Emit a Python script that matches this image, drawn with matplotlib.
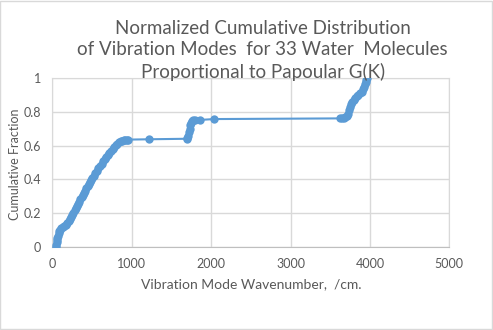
import matplotlib.pyplot as plt
from matplotlib.patches import Rectangle

# Wavenumbers (/cm) and cumulative fraction
low_x = [47, 50, 54, 58, 63, 70, 78, 88, 100, 115, 130, 150, 170, 190, 205, 220, 235, 250,
         265, 280, 295, 310, 325, 340, 355, 370, 385, 400, 415, 430, 445, 460, 475, 490,
         505, 520, 540, 560, 580, 600, 620, 640, 660, 680, 700, 720, 740, 760, 780, 800,
         820, 840, 860, 880, 900, 920, 940, 957]
low_y = [0.000, 0.012, 0.025, 0.038, 0.052, 0.066, 0.080, 0.092, 0.102, 0.110, 0.116, 0.122,
         0.130, 0.140, 0.151, 0.164, 0.177, 0.190, 0.203, 0.216, 0.229, 0.242, 0.255, 0.268,
         0.281, 0.294, 0.307, 0.320, 0.333, 0.346, 0.359, 0.372, 0.385, 0.398, 0.410, 0.422,
         0.437, 0.452, 0.466, 0.480, 0.494, 0.508, 0.521, 0.534, 0.546, 0.558, 0.570, 0.581,
         0.592, 0.602, 0.612, 0.619, 0.625, 0.629, 0.632, 0.634, 0.635, 0.636]

mid_x = [1222, 1693, 1700, 1710, 1720, 1730, 1740, 1750, 1760, 1775, 1797, 1860, 2041]
mid_y = [0.638, 0.641, 0.645, 0.660, 0.680, 0.700, 0.720, 0.735, 0.745, 0.750, 0.752, 0.753, 0.758]

high_x = [3623, 3645, 3670, 3690, 3708, 3720, 3735, 3749, 3765, 3780, 3795, 3815, 3835,
          3855, 3875, 3895, 3910, 3925, 3938, 3948, 3955, 3960]
high_y = [0.762, 0.762, 0.764, 0.768, 0.775, 0.790, 0.810, 0.830, 0.848, 0.862, 0.873, 0.885,
          0.895, 0.902, 0.910, 0.920, 0.935, 0.950, 0.965, 0.980, 0.990, 1.000]

wavenumber = low_x + mid_x + high_x
fraction = low_y + mid_y + high_y

x_ticks = [0, 1000, 2000, 3000, 4000, 5000]
y_ticks = [0, 0.2, 0.4, 0.6, 0.8, 1]
y_labels = ['0', '0.2', '0.4', '0.6', '0.8', '1']

plt.rcParams['font.family'] = ['Lato', 'DejaVu Sans']
grey = '#595959'

fig = plt.figure(figsize=(4.93, 3.30), dpi=100)
ax = fig.add_axes([0.1061, 0.2524, 0.8053, 0.5103])

ax.plot(wavenumber, fraction, color='#5B9BD5', linewidth=1.5, marker='o',
        markersize=6, markeredgewidth=0, zorder=3)

ax.set_xlim(0, 5000)
ax.set_ylim(0, 1)
ax.set_xticks(x_ticks)
ax.set_yticks(y_ticks)
ax.set_yticklabels(y_labels)
ax.grid(True, color='#D9D9D9', linewidth=1)
ax.tick_params(length=0, labelsize=9, colors=grey, pad=8)
for s in ax.spines.values():
    s.set_color('#D9D9D9')
ax.spines['bottom'].set_color('#BFBFBF')

ax.set_xlabel('Vibration Mode Wavenumber,  /cm.', fontsize=10, color=grey, labelpad=6)
ax.set_ylabel('Cumulative Fraction', fontsize=9, color=grey)
ax.yaxis.set_label_coords(-0.08, 0.49)

fig.text(0.533, 0.94, 'Normalized Cumulative Distribution\nof Vibration Modes  for 33 Water  Molecules\nProportional to Papoular G(K)',
         ha='center', va='top', fontsize=13.5, color=grey, linespacing=1.3)

fig.patches.append(Rectangle((0.001, 0.002), 0.996, 0.995, transform=fig.transFigure,
                             fill=False, edgecolor='#D9D9D9', linewidth=1))

fig.savefig('out.png', dpi=100)
